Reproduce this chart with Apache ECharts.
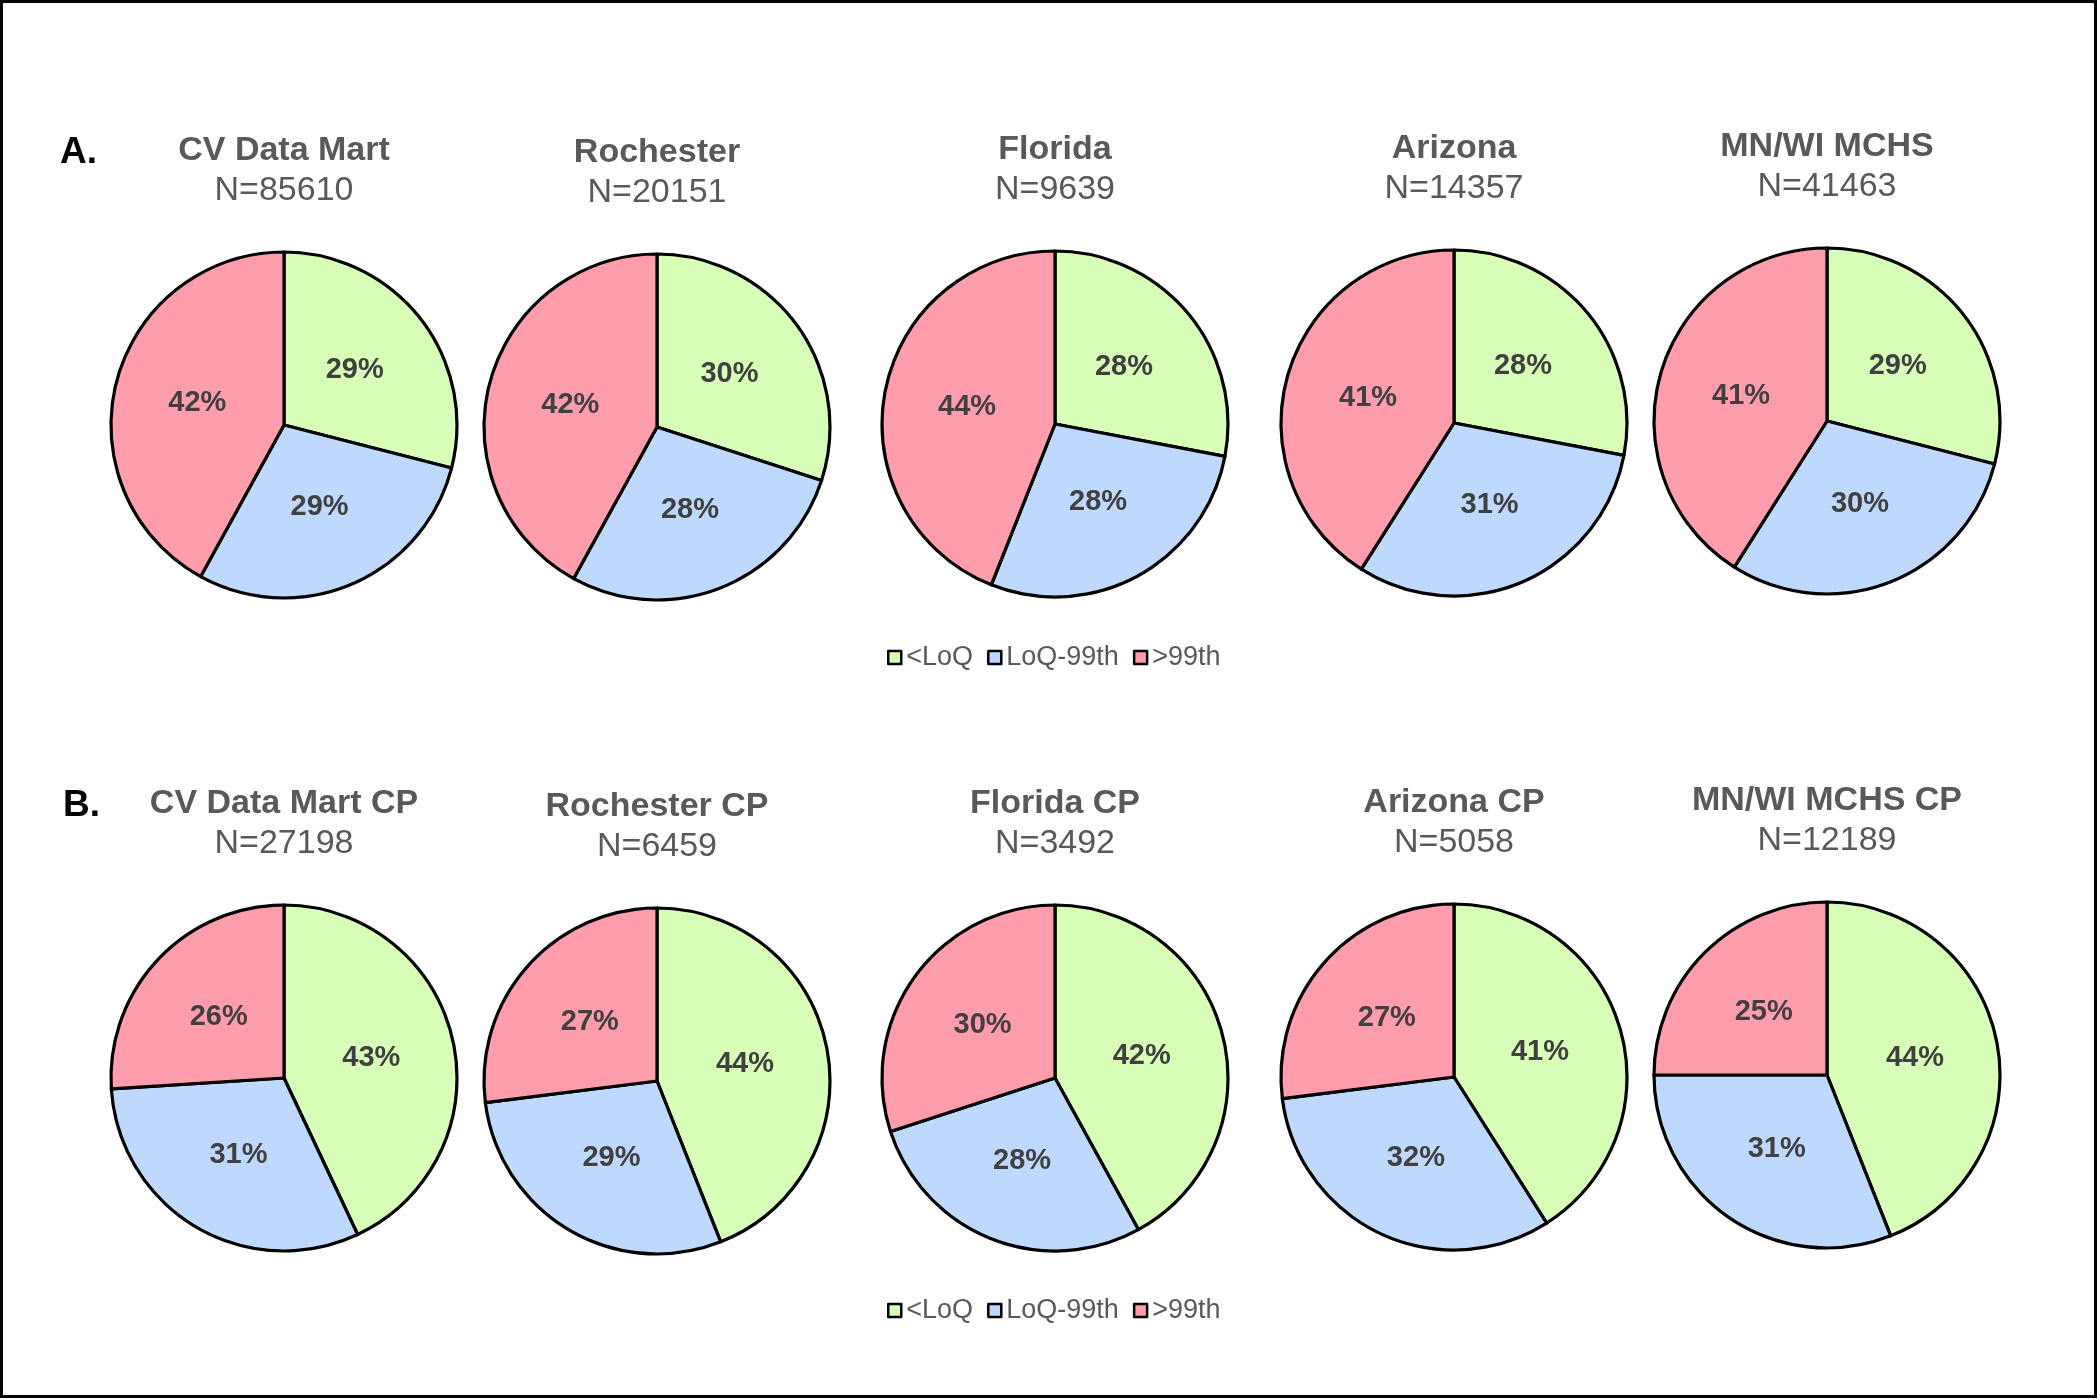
<!DOCTYPE html>
<html>
<head>
<meta charset="utf-8">
<script src="https://cdn.jsdelivr.net/npm/echarts@6/dist/echarts.min.js"></script>
<style>
  html, body { margin: 0; padding: 0; background: #fff; }
  #chart { width: 2100px; height: 1400px; }
</style>
</head>
<body>
<div id="chart"></div>
<script>
// categories (legend)
var categories = ['<LoQ', 'LoQ-99th', '>99th']

// panel A
var namesA = ['CV Data Mart', 'Rochester', 'Florida', 'Arizona', 'MN/WI MCHS']
var countsA = [85610, 20151, 9639, 14357, 41463]
var loqA = [29, 30, 28, 28, 29]
var midA = [29, 28, 28, 31, 30]
var highA = [42, 42, 44, 41, 41]

// panel B
var namesB = ['CV Data Mart CP', 'Rochester CP', 'Florida CP', 'Arizona CP', 'MN/WI MCHS CP']
var countsB = [27198, 6459, 3492, 5058, 12189]
var loqB = [43, 44, 42, 41, 44]
var midB = [31, 29, 28, 32, 31]
var highB = [26, 27, 30, 27, 25]

// layout (px)
var colX = [284, 657, 1055, 1454, 1827]
var pieYA = [425, 427, 424, 423, 421]
var pieYB = [1078, 1081, 1078, 1077, 1075]
var radius = 173
var colors = ['#D7FFB8', '#BFD9FE', '#FF9DAC']
var font = 'Liberation Sans, Arial, sans-serif'

var titles = []
var series = []

function addPanel (names, counts, loq, mid, high, pieY) {
  names.forEach(function (name, i) {
    titles.push({
      text: name,
      subtext: 'N=' + counts[i],
      left: colX[i],
      top: pieY[i] - 291,
      textAlign: 'center',
      itemGap: 6,
      padding: 0,
      textStyle: { fontFamily: font, fontSize: 34, fontWeight: 'bold', color: '#595959' },
      subtextStyle: { fontFamily: font, fontSize: 34, color: '#595959' }
    })
    series.push({
      type: 'pie',
      name: name,
      center: [colX[i], pieY[i]],
      radius: radius,
      startAngle: 90,
      clockwise: true,
      silent: true,
      emphasis: { scale: false },
      itemStyle: { borderColor: '#000', borderWidth: 3.2 },
      label: {
        position: 'inside',
        formatter: '{c}%',
        fontFamily: font,
        fontSize: 29,
        fontWeight: 'bold',
        color: '#404040'
      },
      labelLine: { show: false },
      data: [
        { name: categories[0], value: loq[i] },
        { name: categories[1], value: mid[i] },
        { name: categories[2], value: high[i] }
      ]
    })
  })
}

addPanel(namesA, countsA, loqA, midA, highA, pieYA)
addPanel(namesB, countsB, loqB, midB, highB, pieYB)

titles.push({ text: 'A.', left: 60, top: 134, padding: 0,
  textStyle: { fontFamily: font, fontSize: 37, fontWeight: 'bold', color: '#000' } })
titles.push({ text: 'B.', left: 63, top: 787, padding: 0,
  textStyle: { fontFamily: font, fontSize: 37, fontWeight: 'bold', color: '#000' } })

function legendAt (top) {
  return {
    data: categories,
    left: 887,
    top: top,
    padding: 0,
    icon: 'rect',
    itemWidth: 13,
    itemHeight: 13,
    itemGap: 14,
    selectedMode: false,
    itemStyle: { borderColor: '#000', borderWidth: 2.5 },
    textStyle: { fontFamily: font, fontSize: 27, color: '#595959' }
  }
}

var myChart = echarts.init(document.getElementById('chart'))
myChart.setOption({
  backgroundColor: '#fff',
  animation: false,
  color: colors,
  title: titles,
  legend: [legendAt(644), legendAt(1297)],
  graphic: [{
    type: 'rect',
    shape: { x: 1.5, y: 1.5, width: 2094, height: 1395 },
    style: { fill: null, stroke: '#000', lineWidth: 3 }
  }],
  series: series
})
</script>
</body>
</html>
